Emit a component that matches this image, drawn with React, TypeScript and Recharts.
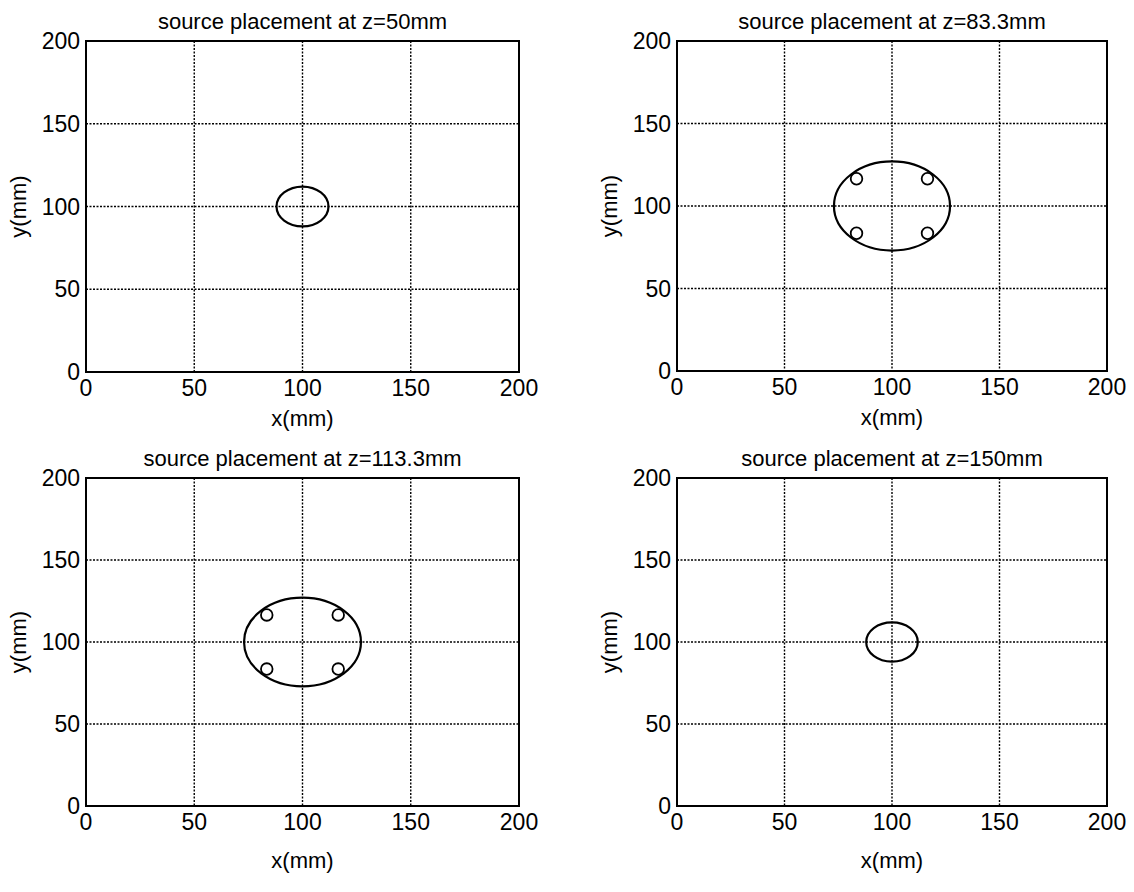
import { ScatterChart, Scatter, XAxis, YAxis, CartesianGrid, ReferenceArea, Label } from "recharts";

// four slices, each one a ring of radius r around (100,100) mm
const panelTitles = [
  "source placement at z=50mm",
  "source placement at z=83.3mm",
  "source placement at z=113.3mm",
  "source placement at z=150mm",
];
const ringCenter = [100, 100];
const ringRadius = [12, 27, 27, 12];
const showSources = [false, true, true, false];

// the four sources placed on the big rings
const sourceX = [83.5, 116.5, 83.5, 116.5];
const sourceY = [116.5, 116.5, 83.5, 83.5];

const axisTicks = [0, 50, 100, 150, 200];
const axisRange = [0, 200];

const sources = sourceX.map((x, i) => ({ x, y: sourceY[i] }));

// plot boxes on the page (left, top, width, height, x-label drop)
const boxes = [
  [86, 41, 433, 331, 54],
  [677, 41, 430, 330, 54],
  [86, 478, 433, 328, 62],
  [677, 478, 430, 328, 62],
];

const FONT = "'Liberation Sans', Arial, Helvetica, sans-serif";
const M = { top: 40, right: 20, left: 4, bottom: 14 };
const YW = 82;

function Ring(p: any) {
  const { x, y, width, height } = p;
  return (
    <ellipse
      cx={x + width / 2}
      cy={y + height / 2}
      rx={width / 2}
      ry={height / 2}
      fill="none"
      stroke="#000"
      strokeWidth={2.2}
    />
  );
}

function Frame(p: any) {
  return <rect x={p.x} y={p.y} width={p.width} height={p.height} fill="none" stroke="#000" strokeWidth={2} />;
}

function SourceDot(p: any) {
  return <circle cx={p.cx} cy={p.cy} r={5.8} fill="#fff" stroke="#000" strokeWidth={1.8} />;
}

function YLabel(p: any) {
  const vb = p.viewBox;
  const cx = vb.x + 14;
  const cy = vb.y + vb.height / 2;
  return (
    <text x={cx} y={cy} transform={`rotate(-90 ${cx} ${cy})`} textAnchor="middle" dominantBaseline="central" fill="#000" fontSize={22} fontFamily={FONT}>
      y(mm)
    </text>
  );
}

function Panel({ idx }: { idx: number }) {
  const [pl, pt, pw, ph, XH] = boxes[idx];
  const W = M.left + YW + pw + M.right;
  const H = M.top + ph + XH + M.bottom;
  const r = ringRadius[idx];
  return (
    <div style={{ position: "absolute", left: pl - M.left - YW, top: pt - M.top }}>
      <ScatterChart width={W} height={H} margin={M} style={{ fontFamily: FONT }}>
        <CartesianGrid stroke="#000" strokeDasharray="2 1.5" strokeWidth={1.4} />
        <XAxis
          type="number"
          dataKey="x"
          domain={axisRange}
          ticks={axisTicks}
          allowDataOverflow
          height={XH}
          tickLine={false}
          tickSize={0}
          tickMargin={8}
          axisLine={false}
          tick={{ fill: "#000", fontSize: 23 }}
        >
          <Label value="x(mm)" position="insideBottom" offset={0} fill="#000" fontSize={22} />
        </XAxis>
        <YAxis
          type="number"
          dataKey="y"
          domain={axisRange}
          ticks={axisTicks}
          allowDataOverflow
          width={YW}
          tickLine={false}
          tickSize={0}
          tickMargin={6}
          axisLine={false}
          tick={{ fill: "#000", fontSize: 23 }}
        >
          <Label content={YLabel} />
        </YAxis>
        <ReferenceArea
          x1={axisRange[0]}
          x2={axisRange[1]}
          y1={axisRange[0]}
          y2={axisRange[1]}
          shape={Frame}
          label={{ value: panelTitles[idx], position: "top", offset: 12, fill: "#000", fontSize: 22 }}
        />
        <ReferenceArea
          x1={ringCenter[0] - r}
          x2={ringCenter[0] + r}
          y1={ringCenter[1] - r}
          y2={ringCenter[1] + r}
          shape={Ring}
        />
        {showSources[idx] && (
          <Scatter data={sources} shape={SourceDot} isAnimationActive={false} />
        )}
      </ScatterChart>
    </div>
  );
}

export default function App() {
  return (
    <div style={{ position: "absolute", left: 0, top: 0, width: 1134, height: 892, background: "#fff" }}>
      {[0, 1, 2, 3].map((i) => (
        <Panel key={i} idx={i} />
      ))}
    </div>
  );
}
